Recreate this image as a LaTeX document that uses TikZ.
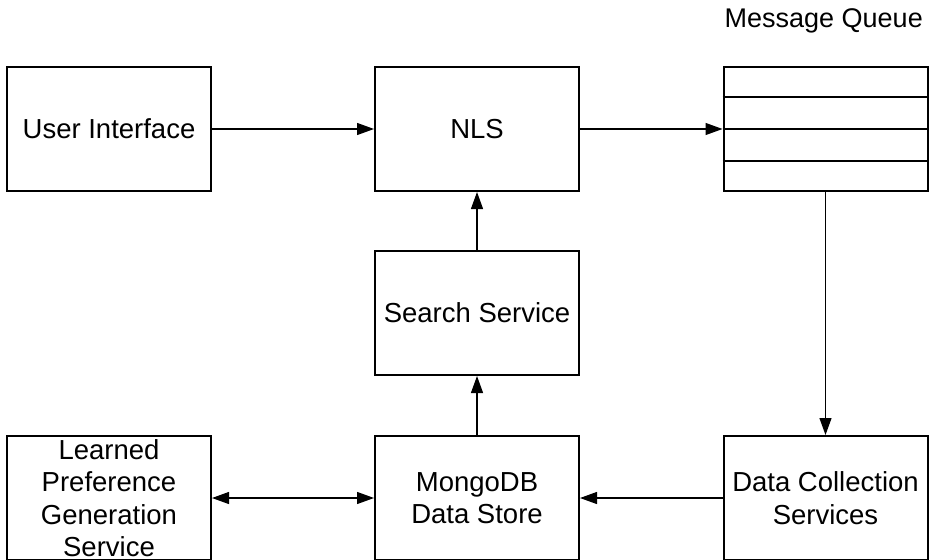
\documentclass[tikz,border=0pt]{standalone}
\usepackage{fontspec}
\setmainfont{Liberation Sans}
\usetikzlibrary{arrows.meta,calc}
\begin{document}
\begin{tikzpicture}[x=1pt,y=-1pt,
  box/.style={draw=black, line width=2pt, minimum width=204pt, minimum height=124pt, inner sep=0pt, align=center, font=\fontsize{27.5}{32.5}\selectfont},
  conn/.style={line width=1.2pt, -{Triangle[length=17pt,width=12pt]}},
  biconn/.style={line width=1.2pt, {Triangle[length=17pt,width=12pt]}-{Triangle[length=17pt,width=12pt]}}]
\useasboundingbox (0,0) rectangle (933,559);
\node[box] (ui) at (109,129) {User Interface};
\node[box] (nls) at (477,129) {NLS};
\node[box] (mq) at (825.5,129) {};
\node[box] (ss) at (477,313) {Search Service};
\node[box] (lp) at (109,498) {Learned\\Preference\\Generation\\Service};
\node[box] (db) at (477,498) {MongoDB\\Data Store};
\node[box] (dc) at (825.5,498) {Data Collection\\Services};
\node[anchor=base east, inner sep=0pt, font=\fontsize{27}{32.5}\selectfont] (mql) at (923,28) {Message Queue};
\foreach \f in {0.25,0.5,0.75}
  \draw[line width=2pt] ($(mq.north west)!\f!(mq.south west)$) -- ($(mq.north east)!\f!(mq.south east)$);
\draw[conn] (ui.east) -- (nls.west);
\draw[conn] (nls.east) -- (mq.west);
\draw[conn] (mq.south) -- (dc.north);
\draw[conn] (dc.west) -- (db.east);
\draw[biconn] (lp.east) -- (db.west);
\draw[conn] (db.north) -- (ss.south);
\draw[conn] (ss.north) -- (nls.south);
\end{tikzpicture}
\end{document}
